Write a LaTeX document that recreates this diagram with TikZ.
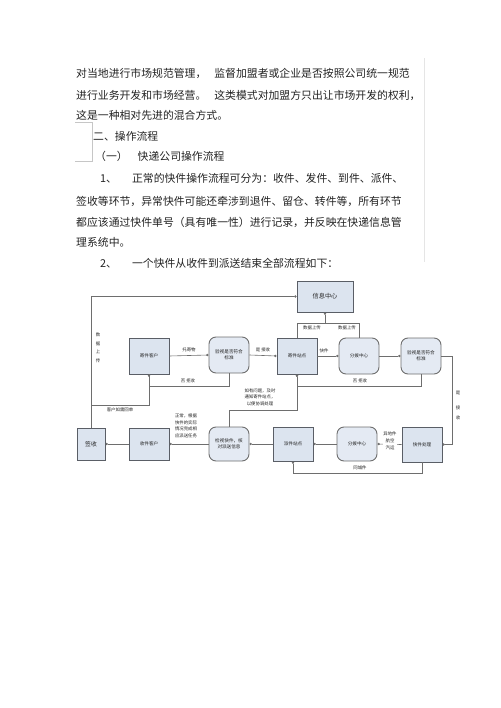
\documentclass[tikz,border=0pt]{standalone}
\usepackage{fontspec}
\usetikzlibrary{arrows.meta}
\newfontfamily\cjk{Noto Sans CJK SC}
\definecolor{boxfill}{HTML}{DCE4EF}
\definecolor{rfill}{HTML}{E4EAF3}
\definecolor{boxborder}{HTML}{5A5E66}
\definecolor{linegray}{HTML}{6E6E6E}
\definecolor{txt}{HTML}{222222}
\tikzset{
  body/.style={anchor=west, inner sep=0pt, text=txt, font=\cjk\fontsize{10.85}{12}\selectfont},
  sbox/.style={draw=boxborder, fill=boxfill, line width=0.9pt, minimum width=40pt, minimum height=36pt, inner sep=1pt, align=center, text=txt, font=\cjk\fontsize{4.6}{5.6}\selectfont},
  rbox/.style={sbox, draw=linegray, fill=rfill, rounded corners=7pt},
  conn/.style={draw=linegray, line width=0.6pt},
  arr/.style={conn, -{Circle[length=2.4pt]}},
  lab/.style={inner sep=0.5pt, text=txt, align=center, font=\cjk\fontsize{4.4}{6.6}\selectfont}
}
\begin{document}
\begin{tikzpicture}[x=1pt, y=-1pt]
\useasboundingbox (0,0) rectangle (500,708);
% text block
\node[body] (t1) at (76,73) {对当地进行市场规范管理，\hspace{8pt}监督加盟者或企业是否按照公司统一规范};
\node[body] (t2) at (76,95) {进行业务开发和市场经营。\hspace{8pt}这类模式对加盟方只出让市场开发的权利，};
\node[body] (t3) at (76,115) {这是一种相对先进的混合方式。};
\node[body] (t4) at (93,136) {二、操作流程};
\node[body] (t5) at (95,156) {（一）\hspace{10pt}快递公司操作流程};
\node[body] (t6) at (100,178) {1、\hspace{15pt}正常的快件操作流程可分为：收件、发件、到件、派件、};
\node[body] (t7) at (76,201) {签收等环节，异常快件可能还牵涉到退件、留仓、转件等，所有环节};
\node[body] (t8) at (76,222) {都应该通过快件单号（具有唯一性）进行记录，并反映在快递信息管};
\node[body] (t9) at (76,242) {理系统中。};
\node[body] (t10) at (100,263) {2、\hspace{15pt}一个快件从收件到派送结束全部流程如下：};
\draw[draw=gray!45, line width=0.5pt] (75,122) -- (92,122) -- (92,161) -- (75,161);
\draw[draw=gray!20, line width=0.5pt] (424,58) -- (424,262);
% diagram nodes
\node[sbox, minimum width=56pt, minimum height=31pt, font=\cjk\fontsize{6.2}{7}\selectfont] (info) at (325,296.5) {信息中心};
\node[sbox] (jkh) at (149,356) {寄件客户};
\node[rbox] (ys1) at (229,355) {验视是否符合\\标准};
\node[sbox] (jzd) at (297,356) {寄件站点};
\node[rbox] (fb1) at (359,356) {分拨中心};
\node[rbox] (ys2) at (421,356) {验视是否符合\\标准};
\node[sbox, minimum width=28pt, minimum height=32pt, font=\cjk\fontsize{5.8}{7}\selectfont] (qs) at (91,444) {签收};
\node[sbox, minimum height=32pt] (sjkh) at (149,444) {收件客户};
\node[rbox, minimum height=34pt] (jc) at (229,444) {检视快件，核\\对派送信息};
\node[sbox, minimum height=34pt] (pzd) at (293,444) {派件站点};
\node[rbox, minimum height=34pt] (fb2) at (357,444) {分拨中心};
\node[sbox, minimum height=35pt] (kjcl) at (422,444.5) {快件处理};
% helper coordinates
\coordinate (c1) at (qs.north |- 0,405);
\coordinate (c2) at (325,323);
% connectors
\draw[arr] (jkh.east) -- (ys1.west);
\node[lab] at (189,349.5) {托寄物};
\draw[arr] (ys1.east) -- (jzd.west);
\node[lab] at (263,350) {是\ 接收};
\draw[arr] (ys1.south) -- (ys1.south |- 0,386) -- (jkh.south |- 0,386) -- (jkh.south);
\node[lab] at (188,380.5) {否\ 拒收};
\draw[arr] (jzd.east) -- (fb1.west);
\node[lab] at (324,351) {快件};
\draw[arr] (fb1.east) -- (ys2.west);
\draw[arr] (ys2.east) -- (452,356) -- (452,444.5) -- (kjcl.east);
\node[lab, font=\cjk\fontsize{4.4}{10}\selectfont] at (458,393) {是};
\node[lab, font=\cjk\fontsize{4.4}{10}\selectfont] at (458,413) {接\\收};
\draw[arr] (ys2.south) -- (ys2.south |- 0,386) -- (jzd.south |- 0,386) -- (jzd.south);
\node[lab] at (360,380.5) {否\ 拒收};
\draw[conn] (jzd.north) -- (jzd.north |- c2) -- (fb1.north |- c2) -- (fb1.north);
\draw[arr] (c2) -- (info.south);
\node[lab] at (312,328) {数据上传};
\node[lab] at (347,328) {数据上传};
\draw[arr] (qs.north) -- (qs.north |- info.west) -- (info.west);
\node[lab, font=\cjk\fontsize{4.4}{8.5}\selectfont] at (98,348) {数\\据\\上\\传};
\draw[conn] (c1) -- (jkh.south |- c1) -- (jkh.south);
\node[lab] at (120,410) {客户如需回单};
\draw[arr] (sjkh.west) -- (qs.east);
\draw[arr] (jc.west) -- (sjkh.east);
\node[lab] at (186,426) {正常，根据\\快件的实际\\情况完成相\\应派送任务};
\draw[arr] (jc.north) -- (jc.north |- 0,410) -- (jzd.south |- 0,410) -- (jzd.south);
\node[lab] at (260,397) {如有问题，及时\\通知寄件站点，\\以便协调处理};
\draw[arr] (pzd.west) -- (jc.east);
\draw[arr] (fb2.west) -- (pzd.east);
\draw[arr] (kjcl.west) -- (fb2.east);
\node[lab, fill=white, font=\cjk\fontsize{4.4}{7.2}\selectfont] at (390,441) {异地件\\航空\\汽运};
\draw[arr] (kjcl.south) -- (kjcl.south |- 0,473) -- (pzd.south |- 0,473) -- (pzd.south);
\node[lab] at (360,468) {同城件};
\end{tikzpicture}
\end{document}
